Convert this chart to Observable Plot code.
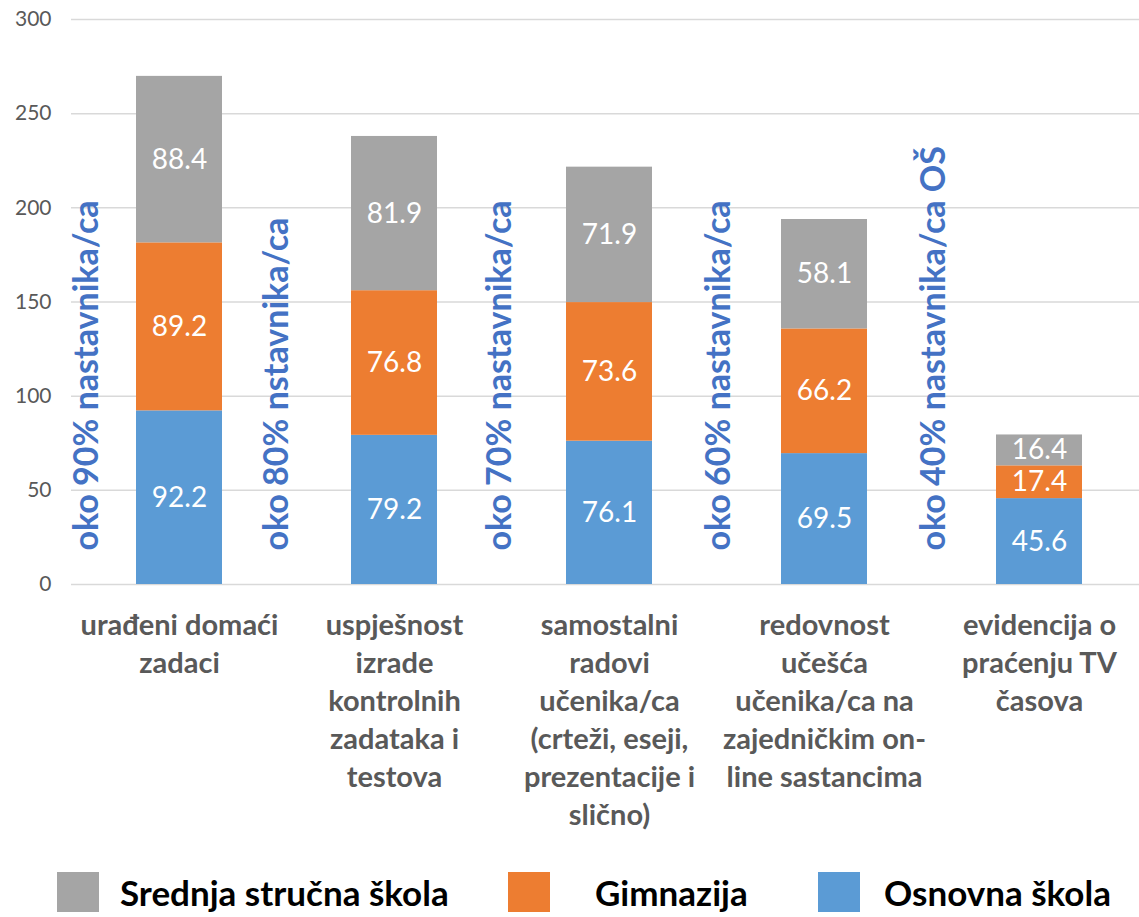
<!DOCTYPE html>
<html>
<head>
<meta charset="utf-8">
<script src="https://cdn.jsdelivr.net/npm/d3@7"></script>
<script src="https://cdn.jsdelivr.net/npm/@observablehq/plot@0.6"></script>
<style>
  html, body { margin: 0; padding: 0; background: #fff; }
  #wrap { position: relative; width: 1139px; height: 917px; overflow: hidden; font-family: Lato, "Open Sans", sans-serif; }
  #legend { position: absolute; left: 0; top: 860px; width: 1139px; height: 57px; }
  .sw { position: absolute; top: 12px; width: 42px; height: 40px; }
  .lb { position: absolute; top: 12px; height: 40px; line-height: 40px; font-weight: bold; font-size: 35px; color: #000; white-space: nowrap; }
</style>
</head>
<body>
<div id="wrap">
  <div id="chart"></div>
  <div id="legend"></div>
</div>
<script>
const categories = [
  "urađeni domaći\nzadaci",
  "uspješnost\nizrade\nkontrolnih\nzadataka i\ntestova",
  "samostalni\nradovi\nučenika/ca\n(crteži, eseji,\nprezentacije i\nslično)",
  "redovnost\nučešća\nučenika/ca na\nzajedničkim on-\nline sastancima",
  "evidencija o\npraćenju TV\nčasova"
];
const seriesNames = ["Osnovna škola", "Gimnazija", "Srednja stručna škola"];
const osnovna   = [92.2, 79.2, 76.1, 69.5, 45.6];
const gimnazija = [89.2, 76.8, 73.6, 66.2, 17.4];
const srednja   = [88.4, 81.9, 71.9, 58.1, 16.4];
const seriesColors = ["#5B9BD5", "#ED7D31", "#A5A5A5"];
const annotations = [
  "oko 90% nastavnika/ca",
  "oko 80% nstavnika/ca",
  "oko 70% nastavnika/ca",
  "oko 60% nastavnika/ca",
  "oko 40% nastavnika/ca OŠ"
];
const yTicks = [0, 50, 100, 150, 200, 250, 300];

// layout-only offsets of the annotation text boxes relative to bar centres
const annotationDx = [-92, -117, -109, -105, -105];

const seriesValues = [osnovna, gimnazija, srednja];
const data = categories.flatMap((c, i) =>
  seriesNames.map((s, j) => ({category: c, series: s, value: seriesValues[j][i]}))
);
const annData = categories.map((c, i) => ({category: c, text: annotations[i], dx: annotationDx[i]}));

const W = 1139, H = 860;
const xFont = 29;
const chart = Plot.plot({
  width: W,
  height: H,
  marginTop: 19,
  marginBottom: H - 584,
  marginLeft: 71,
  marginRight: 0,
  style: {fontFamily: "Lato, 'Open Sans', sans-serif", background: "#fff"},
  x: {domain: categories, range: [71, 1147.5], paddingInner: 0.6, paddingOuter: 0.3, label: null, axis: null},
  y: {domain: [0, 300], label: null},
  color: {domain: seriesNames, range: seriesColors},
  marks: [
    Plot.gridY(yTicks, {stroke: "#d9d9d9", strokeOpacity: 1, strokeWidth: 1.5}),
    Plot.axisY(yTicks, {tickSize: 0, tickPadding: 20, fontSize: 21, fill: "#595959", label: null}),
    Plot.text(categories, {
      x: d => d, text: d => d, frameAnchor: "bottom", lineAnchor: "top", dy: 24,
      fontSize: xFont, fontWeight: "bold", fill: "#595959", lineHeight: 38 / xFont
    }),
    Plot.barY(data, {x: "category", y: "value", fill: "series", order: seriesNames}),
    Plot.text(data, Plot.stackY({x: "category", y: "value", z: "series", order: seriesNames, text: d => d.value.toFixed(1), fill: "#fff", fontSize: 28})),
    ...annData.map(a => Plot.text([a], {
      x: "category", frameAnchor: "bottom", dy: -34, dx: a.dx,
      text: "text", rotate: -90, textAnchor: "start", lineAnchor: "middle",
      fill: "#4472C4", fontSize: 34, fontWeight: "bold"
    }))
  ]
});
document.getElementById("chart").appendChild(chart);

// legend
const legend = document.getElementById("legend");
const legendOrder = [2, 1, 0];
const swX = [57, 508, 818];
const lbX = [120, 595, 884];
legendOrder.forEach((k, i) => {
  const sw = document.createElement("div");
  sw.className = "sw";
  sw.style.left = swX[i] + "px";
  sw.style.background = seriesColors[k];
  legend.appendChild(sw);
  const lb = document.createElement("div");
  lb.className = "lb";
  lb.style.left = lbX[i] + "px";
  lb.textContent = seriesNames[k];
  legend.appendChild(lb);
});
</script>
</body>
</html>
